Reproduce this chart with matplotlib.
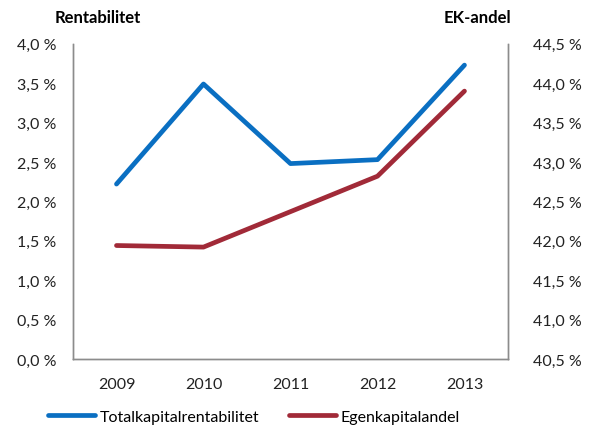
import matplotlib.pyplot as plt
from matplotlib.ticker import FuncFormatter

years = ['2009', '2010', '2011', '2012', '2013']
totalkapital = [2.22, 3.49, 2.48, 2.53, 3.73]
egenkapital = [41.94, 41.92, 42.37, 42.82, 43.90]

plt.rcParams['font.family'] = ['Lato', 'DejaVu Sans']

fig = plt.figure(figsize=(5.91, 4.27), dpi=100)
ax = fig.add_axes([0.1235, 0.157, 0.736, 0.738])
ax2 = ax.twinx()

blue = '#0A6FC2'
red = '#A12A38'
x = range(len(years))
l1, = ax.plot(x, totalkapital, color=blue, lw=3.4, label='Totalkapitalrentabilitet',
              solid_capstyle='round', zorder=3)
l2, = ax2.plot(x, egenkapital, color=red, lw=3.4, label='Egenkapitalandel',
               solid_capstyle='round')

ax.set_xlim(-0.5, 4.5)
ax.set_ylim(0, 4.0)
ax2.set_ylim(40.5, 44.5)
ax.set_yticks([i * 0.5 for i in range(9)])
ax2.set_yticks([40.5 + i * 0.5 for i in range(9)])
ax.set_xticks(list(x))
ax.set_xticklabels(years)

fmt = FuncFormatter(lambda v, p: ('%.1f %%' % v).replace('.', ','))
ax.yaxis.set_major_formatter(fmt)
ax2.yaxis.set_major_formatter(fmt)

for a in (ax, ax2):
    a.spines['top'].set_visible(False)
    for s in ('left', 'right', 'bottom'):
        a.spines[s].set_color('#8c8c8c')
        a.spines[s].set_linewidth(1.0)
    a.tick_params(length=0, labelsize=11.5, colors='#222222')
ax.tick_params(axis='y', pad=12)
ax2.tick_params(axis='y', pad=18)
ax.tick_params(axis='x', pad=13)

fig.text(0.093, 0.958, 'Rentabilitet', fontsize=12, fontweight='bold', ha='left', va='center')
fig.text(0.75, 0.958, 'EK-andel', fontsize=12, fontweight='bold', ha='left', va='center')

fig.legend(handles=[l1, l2], loc='center', bbox_to_anchor=(0.43, 0.022), ncol=2,
           frameon=False, fontsize=11.5, handlelength=2.9, columnspacing=1.9,
           handletextpad=0.3)

fig.savefig('out.png', dpi=100)
